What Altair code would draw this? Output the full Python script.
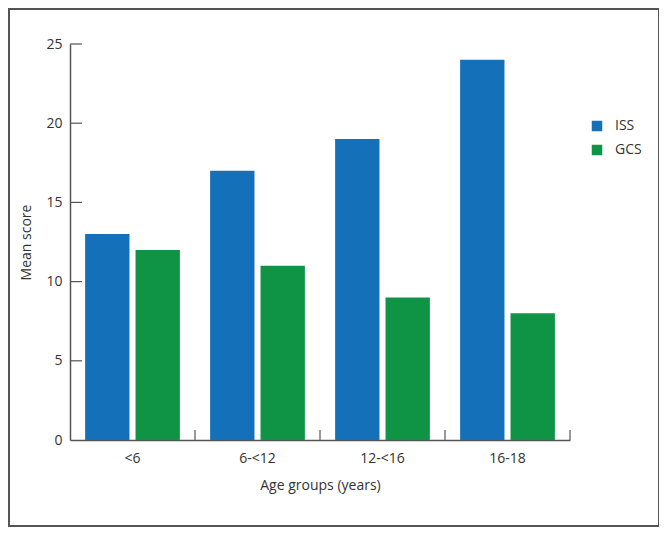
import altair as alt
import pandas as pd

groups = ["<6", "6-<12", "12-<16", "16-18"]
series = ["ISS", "GCS"]
iss = [13, 17, 19, 24]
gcs = [12, 11, 9, 8]
y_ticks = [5, 10, 15, 20, 25]

rows = []
for g, a, b in zip(groups, iss, gcs):
    rows.append({"group": g, "series": "ISS", "value": a})
    rows.append({"group": g, "series": "GCS", "value": b})
df = pd.DataFrame(rows)
df_groups = pd.DataFrame({"group": groups})
df_yt = pd.DataFrame({"v": y_ticks})
df_one = pd.DataFrame({"k": [1]})

FONT = "Open Sans"
TXT = "#333333"
AX = "#555555"

xscale = alt.Scale(domain=groups, paddingInner=0, paddingOuter=0)
yscale = alt.Scale(domain=[0, 25], nice=False)

bars = alt.Chart(df).mark_bar().encode(
    x=alt.X("group:N", scale=xscale, sort=groups,
            axis=alt.Axis(title="Age groups (years)", labelAngle=0, ticks=False,
                          domainColor=AX, domainWidth=1.5, labelPadding=11,
                          titlePadding=13)),
    xOffset=alt.XOffset("series:N", sort=series,
                        scale=alt.Scale(paddingInner=0.12, paddingOuter=0.3)),
    y=alt.Y("value:Q", scale=yscale,
            axis=alt.Axis(title="Mean score", values=[0, 5, 10, 15, 20, 25],
                          ticks=False, domainColor=AX, domainWidth=1.5,
                          labelPadding=8, titlePadding=12, grid=False)),
    color=alt.Color("series:N", sort=series,
                    scale=alt.Scale(domain=series, range=["#1470b9", "#0f9446"]),
                    legend=alt.Legend(title=None, orient="none", legendX=520, legendY=75,
                                      symbolType="square", symbolSize=110,
                                      symbolStrokeWidth=0, labelOffset=11,
                                      rowPadding=10, labelFontSize=14,
                                      labelFont=FONT, labelColor=TXT)),
)

xticks = alt.Chart(df_groups).mark_rule(color=AX, strokeWidth=1.2).encode(
    x=alt.X("group:N", scale=xscale, sort=groups, bandPosition=1),
    y=alt.value(386),
    y2=alt.value(396),
)

yticks = alt.Chart(df_yt).mark_rule(color=AX, strokeWidth=1.2).encode(
    y=alt.Y("v:Q", scale=yscale),
    x=alt.value(0),
    x2=alt.value(12),
)

border = alt.Chart(df_one).mark_rect(filled=False, stroke="#555555", strokeWidth=2).encode(
    x=alt.value(-61), x2=alt.value(589), y=alt.value(-35), y2=alt.value(482)
)

chart = alt.layer(bars, xticks, yticks, border).properties(
    width=500, height=396,
    padding={"left": 62, "top": 36, "right": 89, "bottom": 87},
    autosize=alt.AutoSizeParams(type="none"),
).configure_view(stroke=None).configure_axis(
    labelFont=FONT, titleFont=FONT, labelFontSize=14, titleFontSize=14,
    labelColor=TXT, titleColor=TXT, titleFontWeight="normal",
)

chart.save("out.html", embed_options={"renderer": "svg", "actions": False})
